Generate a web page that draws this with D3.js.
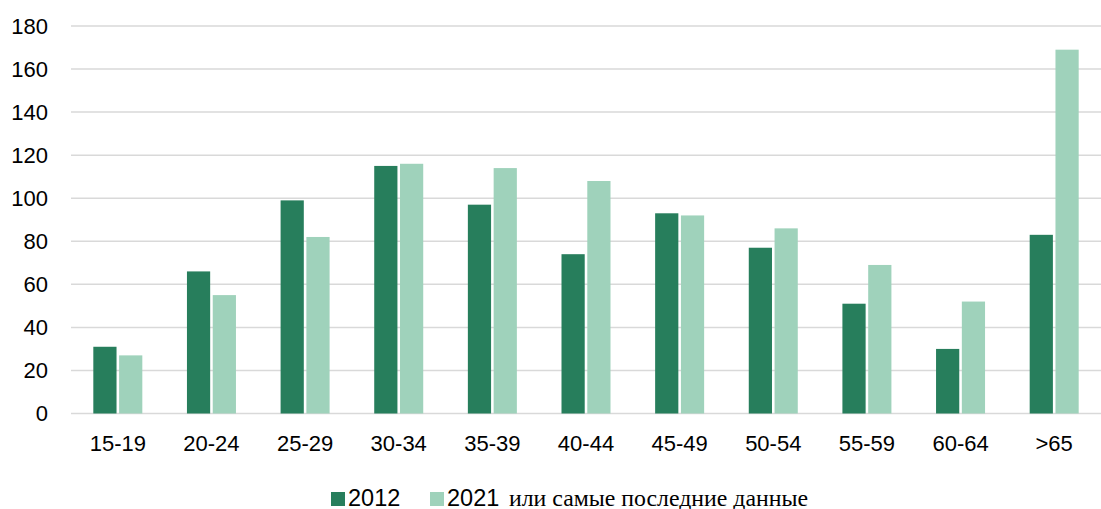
<!DOCTYPE html>
<html>
<head>
<meta charset="utf-8">
<script src="https://cdn.jsdelivr.net/npm/d3@7"></script>
<style>
  html, body { margin: 0; padding: 0; background: #fff; }
  svg { display: block; }
  .sans { font-family: "Liberation Sans", Arial, sans-serif; font-size: 22px; }
  .legend-sans { font-family: "Liberation Sans", Arial, sans-serif; font-size: 23.5px; }
  .serif { font-family: "Liberation Serif", "DejaVu Serif", "Times New Roman", serif; font-size: 23px; }
</style>
</head>
<body>
<svg id="chart" width="1101" height="509"></svg>
<script>
// Age groups and the two series shown side by side
const categories = ["15-19", "20-24", "25-29", "30-34", "35-39", "40-44", "45-49", "50-54", "55-59", "60-64", ">65"];
const values2012 = [31, 66, 99, 115, 97, 74, 93, 77, 51, 30, 83];
const values2021 = [27, 55, 82, 116, 114, 108, 92, 86, 69, 52, 169];
const seriesNames = ["2012", "2021"];
const legendSuffix = "или самые последние данные";
const yTicks = [0, 20, 40, 60, 80, 100, 120, 140, 160, 180];

const colors = { "2012": "#277e5c", "2021": "#9fd2bb" };

const svg = d3.select("#chart");
const margin = { left: 71, right: 0, top: 26, bottom: 95.5 };
const W = 1101, H = 509;

const x = d3.scaleBand()
  .domain(categories)
  .range([margin.left, W - margin.right])
  .paddingInner(0)
  .paddingOuter(0);

const y = d3.scaleLinear()
  .domain([0, 180])
  .range([H - margin.bottom, margin.top]);

const sub = d3.scaleBand()
  .domain(seriesNames)
  .range([0, 49])
  .paddingInner(0.1);

// Horizontal gridlines
svg.append("g")
  .selectAll("line")
  .data(yTicks)
  .join("line")
  .attr("x1", margin.left)
  .attr("x2", W - margin.right)
  .attr("y1", d => y(d))
  .attr("y2", d => y(d))
  .attr("stroke", "#d9d9d9")
  .attr("stroke-width", 1.5);

// Y axis labels
const yAxis = d3.axisLeft(y).tickValues(yTicks).tickSize(0).tickPadding(0);
svg.append("g")
  .attr("transform", "translate(48,0)")
  .call(yAxis)
  .attr("font-family", null)
  .attr("font-size", null)
  .call(g => g.select(".domain").remove())
  .selectAll("text")
  .attr("class", "sans")
  .attr("fill", "#000");

// X axis labels
const xAxis = d3.axisBottom(x).tickSize(0).tickPadding(0);
svg.append("g")
  .attr("transform", "translate(0,435)")
  .call(xAxis)
  .attr("font-family", null)
  .attr("font-size", null)
  .call(g => g.select(".domain").remove())
  .selectAll("text")
  .attr("class", "sans")
  .attr("fill", "#000");

// Bars
const rows = categories.map((c, i) => ({ cat: c, "2012": values2012[i], "2021": values2021[i] }));
const groups = svg.append("g")
  .selectAll("g")
  .data(rows)
  .join("g")
  .attr("transform", d => `translate(${x(d.cat) + x.bandwidth() / 2 - 24.5},0)`);

groups.selectAll("rect")
  .data(d => seriesNames.map(s => ({ key: s, value: d[s] })))
  .join("rect")
  .attr("x", d => sub(d.key))
  .attr("width", sub.bandwidth())
  .attr("y", d => y(d.value))
  .attr("height", d => y(0) - y(d.value))
  .attr("fill", d => colors[d.key]);

// Legend
const legend = svg.append("g").attr("transform", "translate(0,505.5)");
const l1 = legend.append("g").attr("transform", "translate(331,0)");
l1.append("rect").attr("x", 0).attr("y", -13.5).attr("width", 14).attr("height", 14).attr("fill", colors["2012"]);
l1.append("text").attr("class", "legend-sans").attr("x", 17).attr("y", 0).attr("fill", "#000")
  .text(seriesNames[0]);

const l2 = legend.append("g").attr("transform", "translate(430,0)");
l2.append("rect").attr("x", 0).attr("y", -13.5).attr("width", 14).attr("height", 14).attr("fill", colors["2021"]);
l2.append("text").attr("class", "legend-sans").attr("x", 17).attr("y", 0).attr("fill", "#000")
  .text(seriesNames[1]);
l2.append("text").attr("class", "serif").attr("x", 79).attr("y", 0).attr("fill", "#000")
  .attr("textLength", 299).attr("lengthAdjust", "spacingAndGlyphs")
  .text(legendSuffix);
</script>
</body>
</html>
